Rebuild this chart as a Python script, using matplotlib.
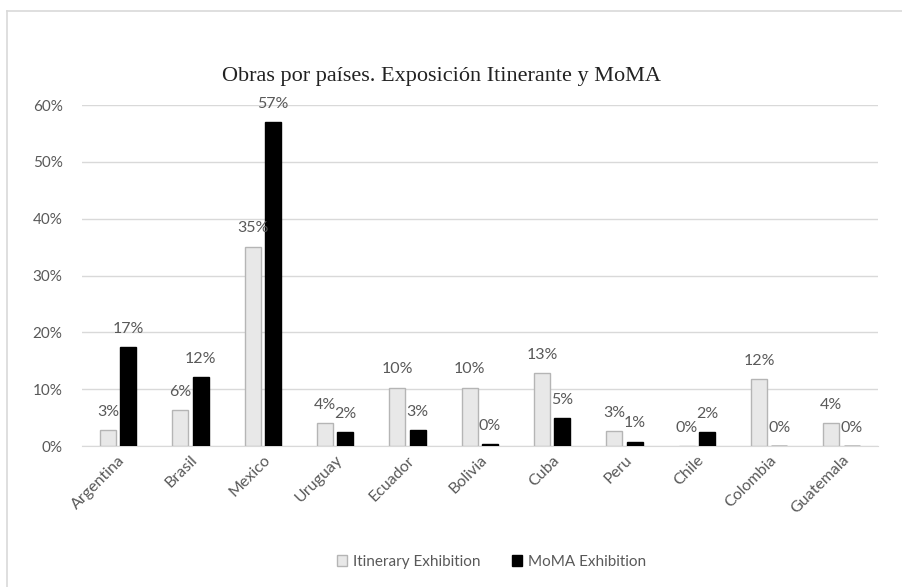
import numpy as np
import matplotlib.pyplot as plt
from matplotlib.lines import Line2D
from matplotlib.ticker import PercentFormatter

countries = ['Argentina', 'Brasil', 'Mexico', 'Uruguay', 'Ecuador', 'Bolivia',
             'Cuba', 'Peru', 'Chile', 'Colombia', 'Guatemala']
itinerary = [2.8, 6.4, 35.1, 4.1, 10.3, 10.3, 12.9, 2.7, 0.0, 11.8, 4.1]
moma = [17.4, 12.2, 57.0, 2.4, 2.8, 0.4, 5.0, 0.8, 2.4, 0.0, 0.0]

gray_txt = '#595959'
plt.rcParams['font.family'] = ['Lato', 'DejaVu Sans']

fig = plt.figure(figsize=(9.02, 5.87), dpi=100)
ax = fig.add_axes([0.091, 0.240, 0.882, 0.581])

x = np.arange(len(countries))
w = 0.22
b1 = ax.bar(x - 0.14, itinerary, w, color='#e8e8e8', edgecolor='#b5b5b5', linewidth=1,
            label='Itinerary Exhibition', zorder=3)
b2 = ax.bar(x + 0.14, moma, w, color='black', edgecolor='black', linewidth=1,
            label='MoMA Exhibition', zorder=3)
ax.bar_label(b1, labels=[f'{v:.0f}%' for v in itinerary], padding=8, fontsize=11.5, color=gray_txt)
ax.bar_label(b2, labels=[f'{v:.0f}%' for v in moma], padding=8, fontsize=11.5, color=gray_txt)

ax.set_xlim(-0.5, len(countries) - 0.5)
ax.set_ylim(0, 60)
ax.set_yticks(np.arange(0, 61, 10))
ax.yaxis.set_major_formatter(PercentFormatter(decimals=0))
ax.grid(axis='y', color='#d9d9d9', linewidth=1, zorder=0)
for s in ['top', 'right', 'left']:
    ax.spines[s].set_visible(False)
ax.spines['bottom'].set_color('#d9d9d9')
ax.tick_params(axis='both', length=0, colors=gray_txt, labelsize=11)
ax.tick_params(axis='y', pad=14)
ax.tick_params(axis='x', labelsize=11.5, pad=5)
ax.set_xticks(x)
ax.set_xticklabels(countries, rotation=45, ha='right', rotation_mode='anchor')

ax.set_title('Obras por países. Exposición Itinerante y MoMA', family='Liberation Serif',
             fontsize=16, pad=17, color='#222222', x=0.452)

leg = fig.legend(loc='center', bbox_to_anchor=(0.545, 0.043), ncol=2, frameon=False,
                 fontsize=11, handlelength=0.7, handleheight=0.7, columnspacing=2.0,
                 handletextpad=0.4)
for t in leg.get_texts():
    t.set_color(gray_txt)

# only top and left frame lines are visible in the source
fig.add_artist(Line2D([0.008, 1.0], [0.981, 0.981], transform=fig.transFigure,
                      color='#d9d9d9', linewidth=1.2))
fig.add_artist(Line2D([0.008, 0.008], [0.0, 0.981], transform=fig.transFigure,
                      color='#d9d9d9', linewidth=1.2))

fig.savefig('out.png', dpi=100)
